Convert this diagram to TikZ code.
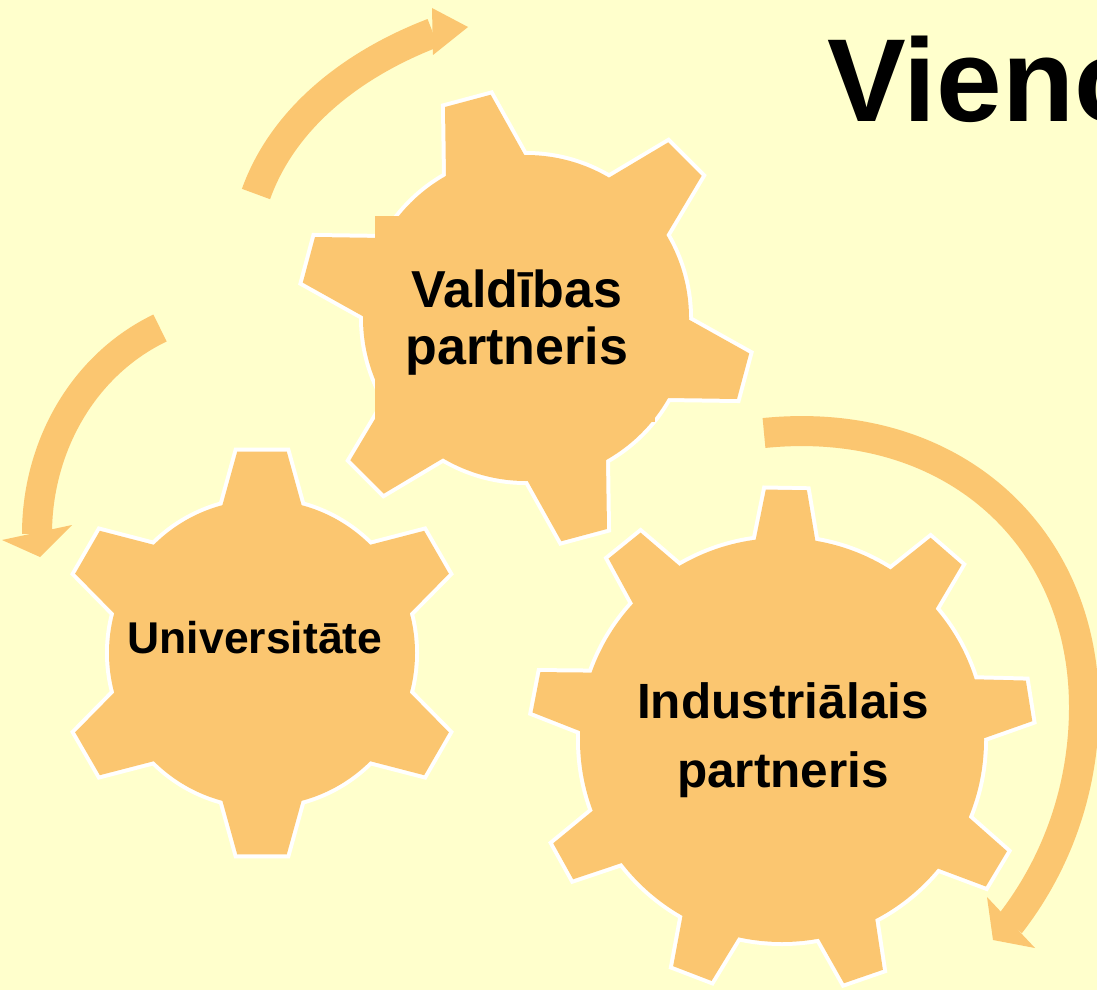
\documentclass[tikz,border=0pt]{standalone}
\usepackage{fontspec}
\setmainfont{Liberation Sans}
\usetikzlibrary{calc}
\definecolor{paper}{RGB}{255,255,204}
\definecolor{cog}{RGB}{251,198,112}

\begin{document}
\begin{tikzpicture}[x=0.5pt,y=-0.5pt,
    band/.style={draw=cog,line width=15pt},
    rim/.style={draw=white,line width=4pt},
    cogtext/.style={font=\bfseries\fontsize{#1}{#1}\selectfont,inner sep=0pt,anchor=base}]
                      \fill[paper](0,0)rectangle(1097,990);
                      \clip(0,0)rectangle(1097,990);
                      % curved arrows
                      \draw[band](256,194) .. controls (284,116) and (355,63) .. (433,33);
                      \fill[cog](432,8)--(468,27)--(433,55)--cycle;
                      \draw[band](160,328) .. controls (83,365) and (37,447) .. (37,534);
                      \fill[cog](2,540)--(40,557)--(72,525)--cycle;
                      \draw[band](764,433) .. controls (953,414) and (1084,537) .. (1084,707)
                                           .. controls (1084,785) and (1059,861) .. (1010,924);
                      \fill[cog](987,897)--(993,940)--(1035,948)--cycle;
                      % gears: centre, inner/outer radius, teeth, first tooth, half widths
                      \foreach \cx/\cy/\ri/\ro/\n/\a/\bw/\tw in {526/318/163/226/6/105/14.4/6,
                                                                262/653/153/203/6/90/15/7,
                                                                782/740/202/251/9/89/8.5/4.7}{
                        \begin{scope}[shift={(\cx,\cy)}]
                          \draw[rim](0,0)circle[radius=\ri];
                          \foreach \k [evaluate=\k as \t using -\a-\k*360/\n] in {1,...,\n}
                            \draw[rim,line join=miter](\t-\tw:\ro)--(\t+\tw:\ro)
                              --($(\t+\tw:\ro)!1.3!(\t+\bw:\ri)$)--($(\t-\tw:\ro)!1.3!(\t-\bw:\ri)$)--cycle;
                          \fill[cog](0,0)circle[radius=\ri];
                          \foreach \k [evaluate=\k as \t using -\a-\k*360/\n] in {1,...,\n}
                            \fill[cog](\t-\tw:\ro)--(\t+\tw:\ro)
                              --($(\t+\tw:\ro)!1.3!(\t+\bw:\ri)$)--($(\t-\tw:\ro)!1.3!(\t-\bw:\ri)$)--cycle;
                        \end{scope}
                      }
                      \fill[cog](375,216)rectangle(655,422);
                      % labels
                      \node[cogtext=26pt](valdibas)at(517,307){Valdības};
                      \node[cogtext=26pt](partnerisv)at(517,364){partneris};
                      \node[cogtext=22.25pt](universitate)at(255,653){Universitāte};
                      \node[cogtext=24.75pt](industrialais)at(783,718){Industriālais};
                      \node[cogtext=24.75pt](partnerisi)at(783,787){partneris};
                      \node[font=\bfseries\fontsize{59pt}{59pt}\selectfont,inner sep=0pt,anchor=base west](title)at(827,122){Vieno};
                  \end{tikzpicture}
\end{document}
